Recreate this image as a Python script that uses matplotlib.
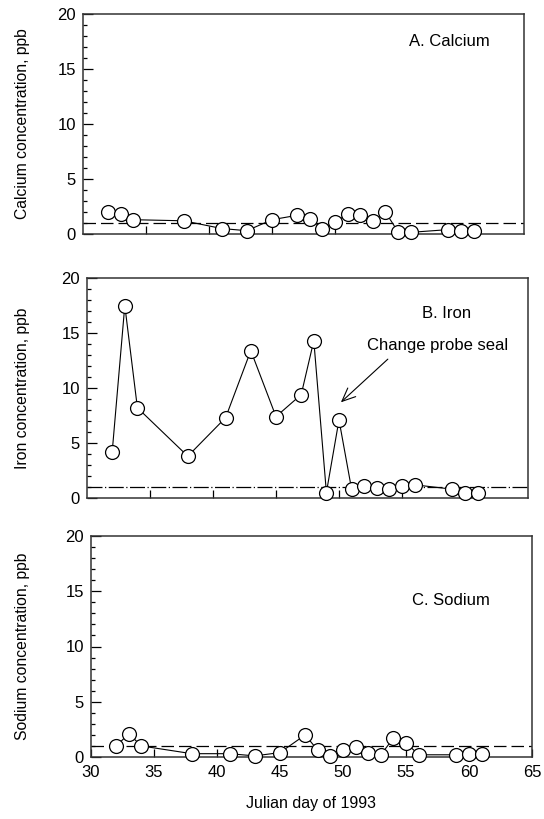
import matplotlib
matplotlib.use('Agg')
import matplotlib.pyplot as plt
from matplotlib.ticker import MultipleLocator

plt.rcParams['font.family'] = ['Liberation Sans', 'DejaVu Sans']

# Julian days of sampling
days = [32, 33, 34, 38, 41, 43, 45, 47, 48, 49, 50, 51, 52, 53, 54, 55, 56, 59, 60, 61]

calcium = [2.0, 1.8, 1.3, 1.2, 0.5, 0.3, 1.3, 1.7, 1.4, 0.5, 1.1, 1.8, 1.7, 1.2, 2.0,
           0.2, 0.15, 0.4, 0.25, 0.3]
iron = [4.2, 17.5, 8.2, 3.8, 7.3, 13.4, 7.4, 9.4, 14.3, 0.5, 7.1, 0.8, 1.05, 0.9, 0.8,
        1.05, 1.2, 0.8, 0.5, 0.5]
sodium = [1.0, 2.1, 1.0, 0.3, 0.3, 0.1, 0.4, 2.0, 0.6, 0.1, 0.6, 0.9, 0.4, 0.2, 1.7,
          1.3, 0.2, 0.2, 0.3, 0.3]

detect_limit = 1.0

panels = [
    ('A. Calcium', 'Calcium concentration, ppb', calcium),
    ('B. Iron', 'Iron concentration, ppb', iron),
    ('C. Sodium', 'Sodium concentration, ppb', sodium),
]

# axes boxes in figure fractions (left, bottom, width, height)
boxes = [
    (83 / 544, 585 / 819, 441 / 544, 220 / 819),
    (87 / 544, 321 / 819, 441 / 544, 220 / 819),
    (91 / 544, 62 / 819, 441 / 544, 221 / 819),
]
title_pos = [(0.83, 0.873), (0.816, 0.84), (0.816, 0.71)]

fig = plt.figure(figsize=(5.44, 8.19), dpi=100)

for i, (title, ylabel, vals) in enumerate(panels):
    ax = fig.add_axes(boxes[i])
    ax.set_xlim(30, 65)
    ax.set_ylim(0, 20)

    # reference line at detection limit
    if i == 1:
        ax.axhline(detect_limit, color='black', lw=0.9, dashes=(12, 2, 1, 2), zorder=1)
    else:
        ax.axhline(detect_limit, color='black', lw=0.9, dashes=(10, 4), zorder=1)

    ax.plot(days, vals, color='black', lw=0.8, zorder=2)
    ax.plot(days, vals, 'o', ms=10, mfc='white', mec='black', mew=0.9, zorder=3,
            clip_on=False)

    ax.text(title_pos[i][0], title_pos[i][1], title, transform=ax.transAxes,
            fontsize=12, ha='center', va='center')

    # y axis
    ax.yaxis.set_major_locator(MultipleLocator(5))
    ax.yaxis.set_minor_locator(MultipleLocator(1))
    ax.tick_params(axis='y', which='major', direction='in', length=7, width=0.9,
                   labelsize=12, right=False, pad=5)
    ax.tick_params(axis='y', which='minor', direction='in', length=3, width=0.9,
                   right=False)

    # x axis
    ax.set_xticks([35, 40, 45, 50, 55, 60])
    ax.tick_params(axis='x', which='major', direction='in', length=6, width=0.9,
                   labelsize=12, top=False, pad=6)
    if i < 2:
        ax.tick_params(axis='x', labelbottom=False)
    else:
        ax.set_xticks([30, 35, 40, 45, 50, 55, 60, 65])
        ax.set_xlabel('Julian day of 1993', fontsize=11.5, labelpad=11)

    for s in ax.spines.values():
        s.set_linewidth(1.1)
        s.set_color('#333333')

    cy = boxes[i][1] + boxes[i][3] / 2
    fig.text(23 / 544, cy, ylabel, rotation=90, ha='center', va='center',
             fontsize=11.3)

    if i == 1:
        ax.annotate('Change probe seal', xy=(50.15, 8.7), xytext=(57.8, 13.9),
                    fontsize=12, ha='center', va='center',
                    arrowprops=dict(arrowstyle='->,head_length=0.8,head_width=0.35',
                                    color='black', lw=0.8, shrinkA=4, shrinkB=0,
                                    relpos=(0.2, 0.0)))

fig.savefig('out.png', dpi=100)
